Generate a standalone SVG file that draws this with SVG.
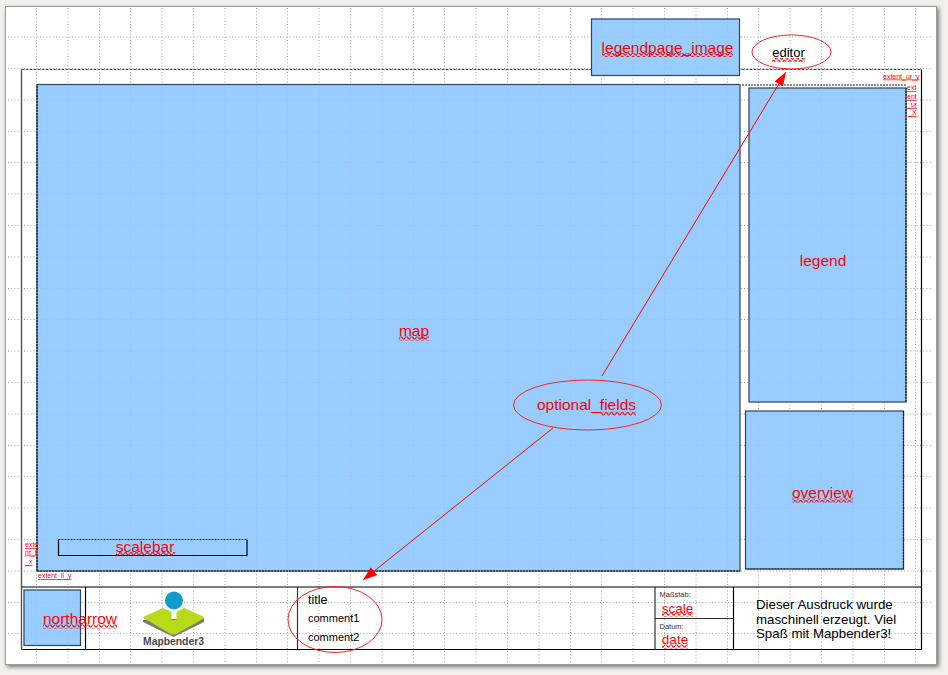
<svg xmlns="http://www.w3.org/2000/svg" width="948" height="675" viewBox="0 0 948 675">
<defs>
<filter id="blur" x="-5%" y="-5%" width="110%" height="110%"><feGaussianBlur stdDeviation="2"/></filter>
<marker id="arrow" markerUnits="userSpaceOnUse" markerWidth="16" markerHeight="12" refX="14" refY="5" orient="auto"><path d="M0 0L14 5L0 10Z" fill="#ff0000"/></marker>
<pattern id="wave" width="5.400" height="4" patternUnits="userSpaceOnUse"><path d="M0 1.800Q1.350 -0.800 2.700 1.800T5.400 1.800" fill="none" stroke="#ff0000" stroke-width="1.200"/></pattern>
<path id="gridlines" fill="none" stroke="#a8a8a8" stroke-width="1" stroke-dasharray="1 2.200" d="M36.500 8V662M68 8V662M99.500 8V662M130.500 8V662M162 8V662M193.500 8V662M225 8V662M256.500 8V662M287.500 8V662M319 8V662M350.500 8V662M382 8V662M413.500 8V662M444.500 8V662M476 8V662M507.500 8V662M539 8V662M570.500 8V662M601.500 8V662M633 8V662M664.500 8V662M696 8V662M727.500 8V662M758.500 8V662M790 8V662M821.500 8V662M853 8V662M884.500 8V662M915.500 8V662M8 37H933M8 68.500H933M8 100H933M8 131.500H933M8 162.500H933M8 194H933M8 225.500H933M8 257H933M8 288.500H933M8 319.500H933M8 351H933M8 382.500H933M8 414H933M8 445.500H933M8 476.500H933M8 508H933M8 539.500H933M8 571H933M8 602.500H933M8 633.500H933"/>
<clipPath id="blue"><rect x="37" y="84" width="703" height="487"/><rect x="591" y="19" width="149" height="57"/><rect x="749" y="88" width="157" height="314"/><rect x="745" y="411" width="158" height="158"/><rect x="24" y="590" width="57" height="56"/></clipPath>
</defs>
<style>
text{font-family:"Liberation Sans",Arial,sans-serif}
.b{fill:#99ccff;stroke:#2c4560;stroke-width:1.200}
.f{fill:none;stroke:#000;stroke-width:1.200}
.d{fill:none;stroke:#222;stroke-width:1.200;stroke-dasharray:2 1}
.r{fill:#ff0000;font-size:15.500px;text-anchor:middle}
.w{fill:url(#wave)}
.s{fill:#ff0000;font-size:7px;text-decoration:underline}
.k{fill:#000;font-size:11px}
.e{fill:none;stroke:#f22;stroke-width:1}
.c{stroke:#ff0000;stroke-width:1;fill:none;marker-end:url(#arrow)}
.n{fill:#000;font-size:13.300px}
.t{fill:#333;font-size:7.500px}
</style>
<rect width="948" height="675" fill="#f1f0ee"/>
<rect x="7" y="8" width="932" height="659" fill="#777" filter="url(#blur)"/>
<rect x="5.500" y="6.500" width="931" height="658" fill="#fff" stroke="#9a9a9a" stroke-width="1"/>
<use href="#gridlines"/>

<g id="page-frame"><path d="M921.500 69.500V649.500H21.500" fill="none" stroke="#000" stroke-width="1.200"/><path d="M21.500 649.500V69.500" fill="none" stroke="#555" stroke-width="1.400"/><path d="M21.500 69.500H921.500" stroke="#555" stroke-dasharray="3 1" stroke-width="1.200"/></g>

<g id="map"><rect class="b" x="37" y="84.500" width="703" height="486.500"/><path class="d" d="M37 571V84.500M37 571H740"/></g>
<g id="legendpage_image"><rect class="b" x="591.500" y="19" width="148" height="56.500"/></g>
<g id="legend"><path class="d" d="M742 85H906"/><rect class="b" x="749" y="88" width="157" height="314"/><path class="d" d="M906 88V402"/></g>
<g id="overview"><rect class="b" x="745.500" y="411" width="158" height="158"/><path class="d" d="M903.500 411V569H745.500"/></g>
<g id="northarrow"><rect class="b" x="24" y="590" width="56.500" height="55.500"/></g>
<use href="#gridlines" clip-path="url(#blue)" opacity=".28"/>

<g id="map-label"><text class="r" x="414" y="336">map</text><rect class="w" x="399" y="336.500" width="30" height="4"/></g>
<g id="legendpage_image-label"><text class="r" x="667.500" y="52.500">legendpage_image</text><rect class="w" x="602" y="53" width="131" height="4"/></g>
<g id="legend-label"><text class="r" x="823" y="266">legend</text></g>
<g id="overview-label"><text class="r" x="822.500" y="498">overview</text><rect class="w" x="792" y="498.500" width="61" height="4"/></g>
<g id="scalebar"><path class="f" d="M247 539.500V555.500H58.500V539.500"/><path class="d" d="M58.500 539.500H247"/><text class="r" x="145" y="552">scalebar</text><rect class="w" x="116" y="552" width="59" height="4"/></g>

<g id="extent-labels">
<text class="s" x="883" y="78.500">extent_ur_y</text>
<text class="s" x="907" y="90">ext</text><text class="s" x="907" y="99">ent</text><text class="s" x="907" y="107">_ur</text><text class="s" x="908" y="115">_X</text>
<text class="s" x="25" y="547">exte</text><text class="s" x="25" y="554.500">nt_ll</text><text class="s" x="25" y="564">_x</text>
<text class="s" x="38" y="578">extent_ll_y</text>
</g>

<g id="footer">
<path d="M21.500 587H921.500M85.500 587V649.500M733.500 587V649.500" class="f"/>
<path d="M297.500 587V649.500M655 587V649.500M655 618.500H733.500" fill="none" stroke="#333" stroke-width="1.200"/>
</g>
<g id="northarrow-label"><text class="r" x="80" y="624">northarrow</text><rect class="w" x="43" y="624.500" width="74" height="4"/></g>
<g id="logo">
<path d="M143 620L143 622L173.500 637L204 622L204 618Z" fill="#7a7a7a"/>
<path d="M143.500 618Q143 617 145 616L163 608L171.500 612V620H176.500V612L184 608L202 616Q204.500 617 204 618.500L178 633Q173.500 636 169 633Z" fill="#b8da17"/>
<circle cx="174" cy="600.500" r="9" fill="#0f9ccb"/>
<text x="173.500" y="644.500" font-size="10.500" font-weight="700" fill="#484848" text-anchor="middle" textLength="61" lengthAdjust="spacingAndGlyphs">Mapbender3</text>
</g>
<g id="title-block">
<text x="308" y="604" font-size="12.500" fill="#000">title</text>
<text class="k" x="308" y="622">comment1</text>
<text class="k" x="308" y="641">comment2</text>
</g>
<g id="scale-block">
<text class="t" x="659.500" y="596.500">Maßstab:</text>
<text class="r" x="677.500" y="612.500" style="font-size:13.500px">scale</text><rect class="w" x="662" y="612.500" width="31" height="4"/>
</g>
<g id="date-block">
<text class="t" x="659.500" y="628.500">Datum:</text>
<text class="r" x="675" y="644" style="font-size:13.500px">date</text><rect class="w" x="662" y="644.500" width="26" height="4"/>
</g>
<g id="notice">
<text class="n" x="756" y="609">Dieser Ausdruck wurde</text>
<text class="n" x="756" y="623.500">maschinell erzeugt. Viel</text>
<text class="n" x="756" y="638">Spaß mit Mapbender3!</text>
</g>
<g id="editor"><ellipse class="e" cx="791.500" cy="52" rx="39.500" ry="17"/><text x="788.500" y="57" font-size="13" fill="#000" text-anchor="middle">editor</text><rect class="w" x="772" y="58" width="33" height="4"/></g>
<g id="optional_fields"><ellipse class="e" cx="587.500" cy="405" rx="74" ry="25"/><text class="r" x="586.500" y="410">optional_fields</text><rect class="w" x="600" y="411.500" width="36" height="4"/></g>
<g id="comments-ellipse"><ellipse class="e" cx="335" cy="619.500" rx="47" ry="33"/></g>
<g id="connectors">
<path class="c" d="M602 376L786 72"/>
<path class="c" d="M553 428L363 580"/>
</g>
</svg>
